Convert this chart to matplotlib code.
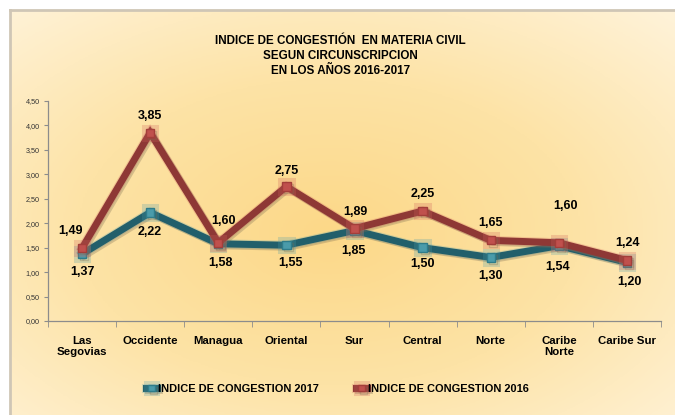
import numpy as np
import matplotlib
matplotlib.use("Agg")
import matplotlib.pyplot as plt
import matplotlib.patheffects as pe
from matplotlib.colors import LinearSegmentedColormap

plt.rcParams['font.family'] = ['Liberation Sans Narrow', 'Liberation Sans', 'DejaVu Sans']

# data
regiones = ["Las\nSegovias", "Occidente", "Managua", "Oriental", "Sur",
            "Central", "Norte", "Caribe\nNorte", "Caribe Sur"]
indice_2017 = [1.37, 2.22, 1.58, 1.55, 1.85, 1.50, 1.30, 1.54, 1.20]
indice_2016 = [1.49, 3.85, 1.60, 2.75, 1.89, 2.25, 1.65, 1.60, 1.24]
etiquetas_2017 = ["1,37", "2,22", "1,58", "1,55", "1,85", "1,50", "1,30", "1,54", "1,20"]
etiquetas_2016 = ["1,49", "3,85", "1,60", "2,75", "1,89", "2,25", "1,65", "1,60", "1,24"]
y_ticks = [0, 0.5, 1, 1.5, 2, 2.5, 3, 3.5, 4, 4.5]

# label offsets in pixels (dx, dy)
off_2016 = [(-12, 17), (0, 17), (5, 22), (0, 16), (1, 17), (0, 17), (0, 17), (7, 37), (1, 17)]
off_2017 = [(0, -18), (0, -20), (2, -19), (4, -18), (-1, -20), (0, -16), (0, -19), (-1, -21), (2, -20)]

W, H = 675, 415
fig = plt.figure(figsize=(W / 100, H / 100), dpi=100, facecolor="white")

# background with radial gradient
bg = fig.add_axes([10 / W, 0, (W - 10) / W, (H - 10) / H])
yy, xx = np.mgrid[0:1:300j, 0:1:400j]
dist = np.sqrt(((xx - 0.48) / 0.8) ** 2 + ((yy - 0.55) / 0.8) ** 2)
dist = np.clip(dist / dist.max(), 0, 1)
cmap = LinearSegmentedColormap.from_list("bg", ["#FCD888", "#FDE3A6", "#FFF3DA"])
bg.imshow(dist, cmap=cmap, extent=[0, 1, 0, 1], aspect="auto", origin="upper")
bg.set_xlim(0, 1)
bg.set_ylim(0, 1)
bg.set_xticks([])
bg.set_yticks([])
for s in ["right", "bottom"]:
    bg.spines[s].set_visible(False)
for s in ["left", "top"]:
    bg.spines[s].set_color("#CFC6B6")
    bg.spines[s].set_linewidth(2)

# title
fig.text(0.504, 1 - 56 / H, "INDICE DE CONGESTIÓN  EN MATERIA CIVIL\nSEGUN CIRCUNSCRIPCION\nEN LOS AÑOS 2016-2017",
         ha="center", va="center", fontsize=8.4, fontweight="bold", linespacing=1.35)

ax = fig.add_axes([48 / W, 1 - 321 / H, (661 - 48) / W, (321 - 101) / H])
ax.patch.set_alpha(0)
x = np.arange(len(regiones))

glow_17 = [pe.Stroke(linewidth=6.5, foreground="#4A9BAA", alpha=0.25),
           pe.SimpleLineShadow(offset=(1.5, -1.5), shadow_color="#7a6a50", alpha=0.3), pe.Normal()]
glow_16 = [pe.Stroke(linewidth=6.5, foreground="#D0605A", alpha=0.25),
           pe.SimpleLineShadow(offset=(1.5, -1.5), shadow_color="#7a6a50", alpha=0.3), pe.Normal()]
ax.plot(x, indice_2017, color="#225F6B", lw=5, marker="s", ms=6, mfc="#4A9BAA", mec="#2F7C8A",
        solid_joinstyle="miter", label="INDICE DE CONGESTION 2017", zorder=3, path_effects=glow_17)
ax.plot(x, indice_2016, color="#8E3835", lw=5, marker="s", ms=6, mfc="#C0504D", mec="#A33E3A",
        solid_joinstyle="miter", label="INDICE DE CONGESTION 2016", zorder=4, path_effects=glow_16)

for i in range(len(x)):
    ax.annotate(etiquetas_2016[i], (x[i], indice_2016[i]), xytext=off_2016[i], textcoords="offset pixels",
                ha="center", va="center", fontsize=9, fontweight="bold", zorder=5)
    ax.annotate(etiquetas_2017[i], (x[i], indice_2017[i]), xytext=off_2017[i], textcoords="offset pixels",
                ha="center", va="center", fontsize=9, fontweight="bold", zorder=5)

ax.set_xlim(-0.5, len(regiones) - 0.5)
ax.set_ylim(0, 4.5)
ax.set_yticks(y_ticks)
ax.set_yticklabels([f"{v:.2f}".replace(".", ",") for v in y_ticks], fontsize=5.2, color="#333333")
ax.set_xticks(x)
ax.set_xticklabels(regiones, fontsize=8.2, fontweight="bold", linespacing=1.05)
ax.set_xticks(np.arange(-0.5, len(regiones)), minor=True)
ax.tick_params(axis="x", which="major", length=0, pad=11)
ax.tick_params(axis="x", which="minor", length=4, color="#8C8C8C", direction="out")
ax.tick_params(axis="y", length=3, color="#8C8C8C", pad=3)
for s in ["top", "right"]:
    ax.spines[s].set_visible(False)
for s in ["left", "bottom"]:
    ax.spines[s].set_color("#8C8C8C")
    ax.spines[s].set_linewidth(0.9)

leg = fig.legend(loc="center", bbox_to_anchor=(0.5, 1 - 389 / H), ncol=2, frameon=False,
                 prop={"size": 7.9, "weight": "bold"}, handlelength=1.0, handletextpad=0.1,
                 columnspacing=3.4, markerscale=0.8)

fig.savefig("out.png", dpi=100, facecolor="white")
